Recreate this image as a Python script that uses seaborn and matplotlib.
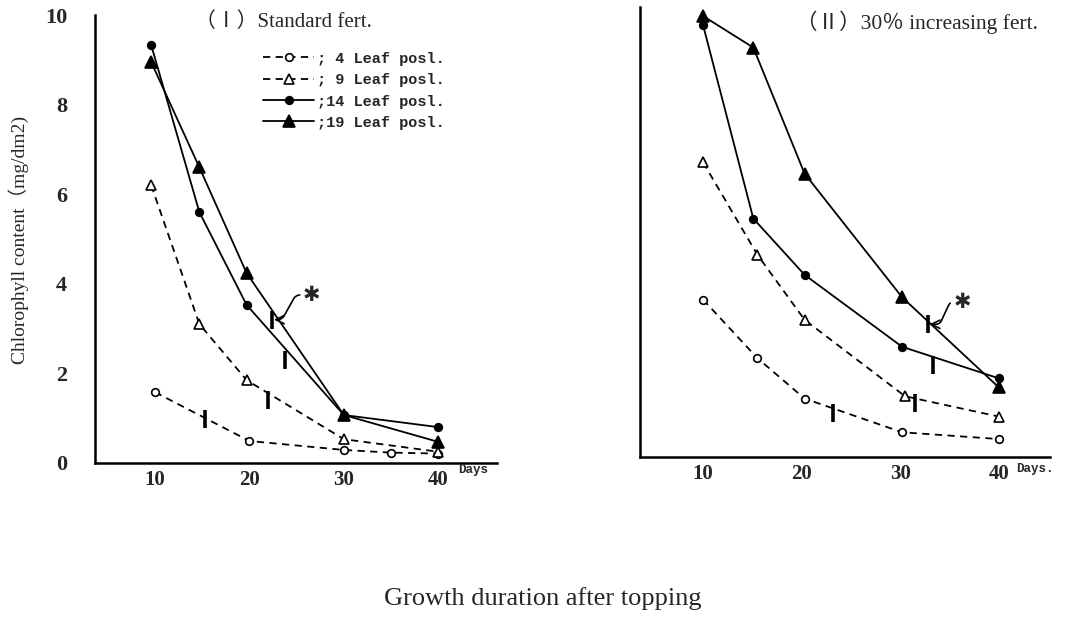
import matplotlib
matplotlib.use("Agg")
import matplotlib.pyplot as plt
import seaborn as sns
import pandas as pd

sns.set_style("white")
plt.rcParams['font.family'] = ['Liberation Serif', 'Noto Sans CJK JP', 'DejaVu Sans']

# ---------------- data ----------------
series_labels = ["; 4 Leaf posl.", "; 9 Leaf posl.", ";14 Leaf posl.", ";19 Leaf posl."]

# Panel I : standard fertilisation
p1_leaf4_x = [10, 20, 30, 35, 40]
p1_leaf4_y = [1.58, 0.49, 0.29, 0.23, 0.21]
p1_leaf9_x = [9.6, 14.7, 19.7, 30, 40]
p1_leaf9_y = [6.2, 3.1, 1.85, 0.53, 0.25]
p1_leaf14_x = [9.6, 14.7, 19.7, 30, 40]
p1_leaf14_y = [9.33, 5.6, 3.53, 1.07, 0.8]
p1_leaf19_x = [9.6, 14.7, 19.7, 30, 40]
p1_leaf19_y = [8.95, 6.6, 4.24, 1.07, 0.47]

# Panel II : 30 % increasing fertilisation
p2_leaf4_x = [10, 15.5, 20.3, 30.2, 40]
p2_leaf4_y = [3.5, 2.2, 1.3, 0.55, 0.4]
p2_leaf9_x = [10, 15.5, 20.3, 30.5, 40]
p2_leaf9_y = [6.55, 4.5, 3.05, 1.35, 0.9]
p2_leaf14_x = [10, 15.1, 20.3, 30.2, 40]
p2_leaf14_y = [9.6, 5.3, 4.05, 2.45, 1.75]
p2_leaf19_x = [10, 15.1, 20.3, 30.2, 40]
p2_leaf19_y = [9.8, 9.1, 6.3, 3.55, 1.55]

# vertical bar marks on each curve (x, y) and the "*" annotation
p1_mark_x = [15.3, 22.0, 23.8, 22.4]
p1_mark_y = [0.98, 1.4, 2.3, 3.2]
p1_star = (26.6, 3.75)
p2_mark_x = [23.2, 31.5, 33.3, 32.8]
p2_mark_y = [0.97, 1.2, 2.05, 2.95]
p2_star = (36.3, 3.45)

x_ticks = [10, 20, 30, 40]
y_ticks = [0, 2, 4, 6, 8, 10]
title1 = "（Ⅰ）Standard fert."
title2 = "（Ⅱ）30％ increasing fert."

# ---------------- styles ----------------
styles = [
    dict(linestyle=(0, (4, 3)), marker='o', markerfacecolor='white', markersize=5.5),
    dict(linestyle=(0, (4, 3)), marker='^', markerfacecolor='white', markersize=7),
    dict(linestyle='-', marker='o', markerfacecolor='black', markersize=5.5),
    dict(linestyle='-', marker='^', markerfacecolor='black', markersize=8),
]

fig = plt.figure(figsize=(10.86, 6.29), dpi=100)
ax1 = fig.add_axes([0.0875, 0.264, 0.370, 0.712])
ax2 = fig.add_axes([0.5893, 0.2734, 0.3775, 0.7154])

panels = [
    (ax1, [(p1_leaf4_x, p1_leaf4_y), (p1_leaf9_x, p1_leaf9_y),
           (p1_leaf14_x, p1_leaf14_y), (p1_leaf19_x, p1_leaf19_y)],
     p1_mark_x, p1_mark_y, p1_star, (3.65, 46.2), (16, 8)),
    (ax2, [(p2_leaf4_x, p2_leaf4_y), (p2_leaf9_x, p2_leaf9_y),
           (p2_leaf14_x, p2_leaf14_y), (p2_leaf19_x, p2_leaf19_y)],
     p2_mark_x, p2_mark_y, p2_star, (3.6, 45.2), (12, 10)),
]

for ax, series, mx, my, star, xl, arms in panels:
    for (xs, ys), lab, st in zip(series, series_labels, styles):
        df = pd.DataFrame({"day": xs, "chl": ys})
        sns.lineplot(data=df, x="day", y="chl", ax=ax, color='black',
                     linewidth=1.3, markeredgecolor='black', markeredgewidth=1.2,
                     sort=False, label=lab, legend=False, **st)
    # vertical bar marks
    ax.scatter(mx, my, marker='|', s=160, linewidths=2.6, color='black', zorder=5)
    # star with arrow to the 19-leaf mark
    ax.annotate("✱", xy=(mx[3] + 0.2, my[3]), xytext=star,
                fontsize=15, ha='center', va='center', family=['DejaVu Sans'],
                arrowprops=dict(arrowstyle='->', color='black', lw=1.2,
                                shrinkA=0, shrinkB=0,
                                connectionstyle='arc,angleA=180,angleB=0,armA=%d,armB=%d,rad=4' % arms))
    ax.set_xlim(*xl)
    ax.set_ylim(0, 10)
    ax.set_xlabel("")
    ax.set_ylabel("")
    ax.set_xticks(x_ticks)
    ax.set_yticks(y_ticks)
    for s in ['top', 'right']:
        ax.spines[s].set_visible(False)
    for s in ['left', 'bottom']:
        ax.spines[s].set_linewidth(1.8)
        ax.spines[s].set_color('black')
    ax.tick_params(axis='x', length=0, pad=5, labelsize=15)
    for t in ax.get_xticklabels():
        t.set_fontweight('bold')

handles = ax1.get_lines()[:4]

ax1.tick_params(axis='y', direction='out', length=6, width=1.5, pad=14, labelsize=16)
for t in ax1.get_yticklabels():
    t.set_fontweight('bold')
ax1.set_yticks([10], minor=True)
ax1.tick_params(axis='y', which='minor', direction='in', length=8, width=1.8)
ax2.tick_params(axis='y', direction='in', length=7, width=1.5, labelleft=False)

leg = ax1.legend(handles=handles, labels=series_labels, loc='upper left',
                 bbox_to_anchor=(0.40, 0.935), frameon=False, handlelength=3.3,
                 handletextpad=0.2, labelspacing=0.48, borderpad=0,
                 prop=dict(family='Liberation Mono', weight='bold', size=11))

# titles and labels
fig.text(0.180, 0.965, title1, fontsize=15, ha='left', va='center')
fig.text(0.733, 0.965, title2, fontsize=15.5, ha='left', va='center')
fig.text(0.4215, 0.252, "Days", fontsize=9, fontweight='bold', family='Liberation Mono', ha='left', va='center')
fig.text(0.936, 0.255, "Days.", fontsize=9, fontweight='bold', family='Liberation Mono', ha='left', va='center')
fig.text(0.017, 0.618, "Chlorophyll content（mg/dm2)", rotation=90, fontsize=14,
         ha='center', va='center')
fig.text(0.5, 0.049, "Growth duration after topping", fontsize=19, ha='center', va='center')

fig.savefig("out.png", dpi=100)
